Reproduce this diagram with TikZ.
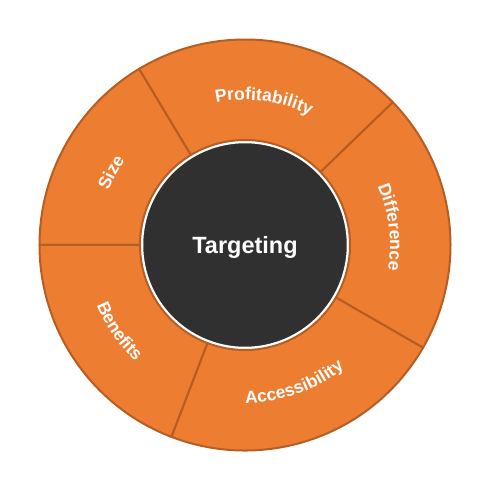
\documentclass[tikz,border=0pt]{standalone}
\usepackage{fontspec}
\setmainfont{Liberation Sans}
\usetikzlibrary{decorations.text}
\definecolor{segfill}{HTML}{ED7D31}
\definecolor{segline}{HTML}{B55D22}
\definecolor{hubfill}{HTML}{303030}
\begin{document}
\begin{tikzpicture}[x=1pt,y=1pt,
  seg/.style={fill=segfill, draw=segline, line width=2pt, line join=round},
  lbl/.style={decorate, decoration={text along path, text align=center,
     text={|\bfseries\fontsize{17.5}{20}\selectfont\color{white}|#1}}},
  hubstyle/.style={circle, fill=hubfill, draw=white, line width=1.5pt,
     minimum size=205pt, inner sep=0pt},
  titlestyle/.style={text=white, font=\bfseries\fontsize{23.5}{27}\selectfont, inner sep=0pt}
]
\useasboundingbox (0,0) rectangle (490,490);
\begin{scope}[shift={(245,245)}]
\def\Ro{205.5}
\def\Ri{105}
% segments
\draw[seg] (180:\Ri) -- (180:\Ro) arc[start angle=180, end angle=121, radius=\Ro] -- (121:\Ri) arc[start angle=121, end angle=180, radius=\Ri] -- cycle;
\draw[seg] (121:\Ri) -- (121:\Ro) arc[start angle=121, end angle=44, radius=\Ro] -- (44:\Ri) arc[start angle=44, end angle=121, radius=\Ri] -- cycle;
\draw[seg] (44:\Ri) -- (44:\Ro) arc[start angle=44, end angle=-30, radius=\Ro] -- (-30:\Ri) arc[start angle=-30, end angle=44, radius=\Ri] -- cycle;
\draw[seg] (-30:\Ri) -- (-30:\Ro) arc[start angle=-30, end angle=-111, radius=\Ro] -- (-111:\Ri) arc[start angle=-111, end angle=-30, radius=\Ri] -- cycle;
\draw[seg] (-111:\Ri) -- (-111:\Ro) arc[start angle=-111, end angle=-180, radius=\Ro] -- (-180:\Ri) arc[start angle=-180, end angle=-111, radius=\Ri] -- cycle;
% labels
\path[lbl=Size] (176:147) arc[start angle=176, end angle=127, radius=147];
\path[lbl=Profitability] (121:145) arc[start angle=121, end angle=44, radius=145];
\path[lbl=Difference] (44:145) arc[start angle=44, end angle=-30, radius=145];
\path[lbl=Accessibility] (-111:158) arc[start angle=-111, end angle=-30, radius=158];
\path[lbl=Benefits] (-180:160) arc[start angle=-180, end angle=-111, radius=160];
% hub
\node[hubstyle] (hub) at (0,0) {};
\node[titlestyle, anchor=base] (title) at (0,-8.3) {Targeting};
\end{scope}
\end{tikzpicture}
\end{document}
